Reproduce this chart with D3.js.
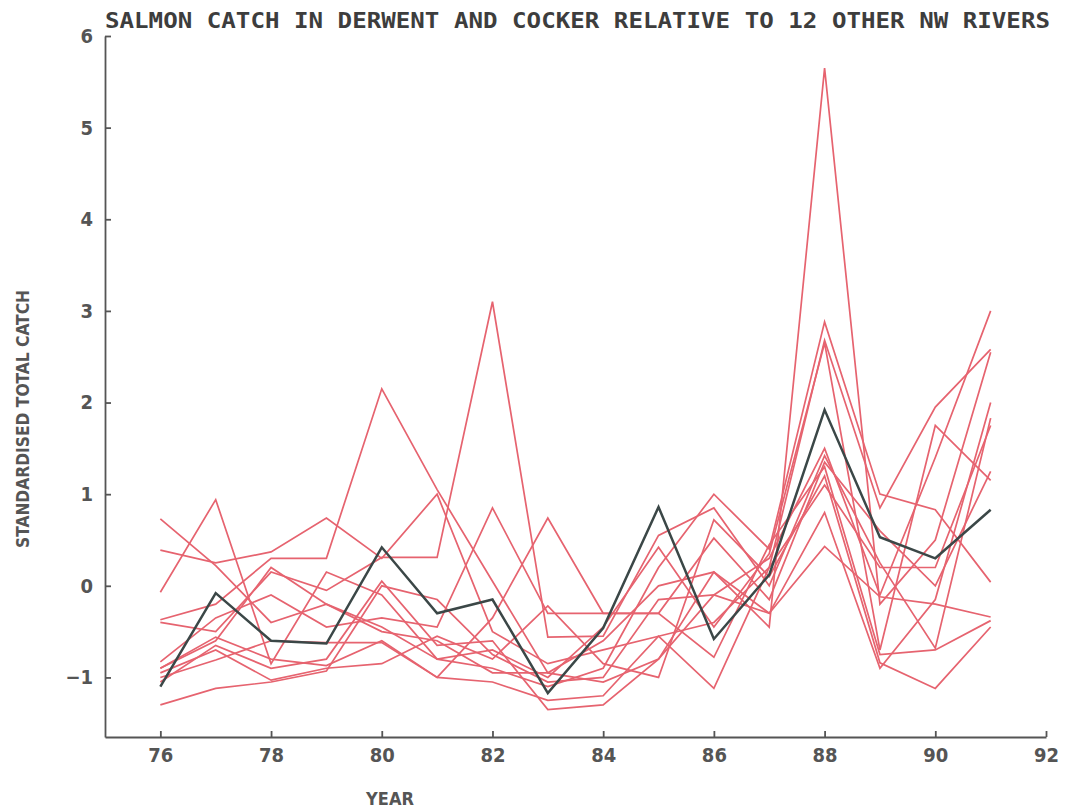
<!DOCTYPE html>
<meta charset="utf-8" />
<script src="https://d3js.org/d3.v7.min.js"></script>
<style>
  body { margin: 0; background: #fff; }
  .tick text { font-family: "DejaVu Sans Condensed", "DejaVu Sans", sans-serif; font-weight: bold; font-stretch: condensed; fill: #555; }
</style>
<div id="my_dataviz"></div>
<script>
// years on the x axis (19xx)
var years = [76, 77, 78, 79, 80, 81, 82, 83, 84, 85, 86, 87, 88, 89, 90, 91];

// Derwent and Cocker (dark line)
var derwentCocker = [-1.10, -0.08, -0.60, -0.63, 0.42, -0.30, -0.15, -1.17, -0.46, 0.86, -0.58, 0.12, 1.92, 0.53, 0.30, 0.83];

// the 12 other NW rivers (red lines)
var riverA = [0.73, 0.22, -0.40, -0.20, -0.50, -0.60, -0.95, -0.95, -0.60, 0.00, 0.15, -0.45, 5.65, -0.20, 0.50, 2.55];
var riverB = [-0.07, 0.94, -0.85, 0.15, -0.10, -0.80, -0.90, -1.10, -0.90, 0.20, 1.00, 0.40, 2.88, 1.00, 0.83, 0.04];
var riverC = [0.39, 0.25, 0.37, 0.74, 0.30, 1.00, -0.50, -0.85, -0.70, -0.55, -0.40, 0.20, 2.68, 0.85, 1.95, 2.58];
var riverD = [-0.37, -0.20, 0.30, 0.30, 2.15, 1.05, 0.05, -0.95, -1.05, -0.80, -0.10, 0.30, 1.50, -0.10, 1.40, 3.00];
var riverE = [-0.40, -0.50, 0.15, -0.05, 0.31, 0.31, 3.10, -0.56, -0.55, 0.55, 0.85, 0.00, 1.42, 0.25, -0.68, 1.83];
var riverF = [-0.83, -0.35, -0.10, -0.45, -0.35, -0.45, 0.85, -0.30, -0.30, -0.30, 0.52, -0.15, 1.35, 0.60, 0.00, 1.25];
var riverG = [-0.90, -0.56, -0.80, -0.87, -0.60, -1.00, -0.35, 0.74, -0.30, -0.30, -0.78, 0.45, 1.30, -0.75, -0.70, -0.38];
var riverH = [-0.95, -0.70, -1.03, -0.90, -0.85, -0.55, -0.80, -0.22, -0.85, -1.00, 0.72, 0.10, 1.20, -0.84, -1.12, -0.45];
var riverI = [-1.00, -0.81, -0.60, -0.62, -0.62, -1.00, -1.05, -1.25, -1.20, -0.55, -1.12, 0.20, 1.10, 0.20, 0.20, 1.75];
var riverJ = [-1.05, -0.65, -0.90, -0.80, 0.05, -0.65, -0.60, -1.35, -1.30, -0.80, 0.15, -0.30, 0.80, -0.90, -0.15, 2.00];
var riverK = [-1.30, -1.12, -1.05, -0.93, 0.00, -0.15, -0.75, -1.05, -1.00, -0.15, -0.10, -0.30, 0.43, -0.12, -0.20, -0.34];
var riverL = [-0.90, -0.60, 0.20, -0.20, -0.45, -0.80, -0.70, -1.00, -0.45, 0.42, -0.45, 0.35, 2.65, -0.70, 1.75, 1.15];
var otherRivers = [riverA, riverB, riverC, riverD, riverE, riverF, riverG, riverH, riverI, riverJ, riverK, riverL];

// tick labels
var xTicks = [76, 78, 80, 82, 84, 86, 88, 90, 92];
var yTicks = [-1, 0, 1, 2, 3, 4, 5, 6];

var width = 1070, height = 810;

var svg = d3.select("#my_dataviz")
  .append("svg")
  .attr("width", width)
  .attr("height", height);

var x = d3.scaleLinear().domain([75, 92]).range([105, 1046]);
var y = d3.scaleLinear().domain([-1.65, 6]).range([737, 36]);

// axes
var xAxis = svg.append("g")
  .attr("transform", "translate(0," + y(-1.65) + ")")
  .call(d3.axisBottom(x).tickValues(xTicks).tickFormat(d3.format("d")).tickSizeInner(-6).tickSizeOuter(0).tickPadding(11));
xAxis.selectAll("text").style("font-size", "20px");

var yAxis = svg.append("g")
  .attr("transform", "translate(" + x(75) + ",0)")
  .call(d3.axisLeft(y).tickValues(yTicks).tickFormat(function (d) { return d < 0 ? "\u2212" + Math.abs(d) : d; }).tickSizeInner(-6).tickSizeOuter(0).tickPadding(12));
yAxis.selectAll("text").style("font-size", "20px");

svg.selectAll(".domain, .tick line").attr("stroke", "#555").attr("stroke-width", 1.8);

// lines
var line = d3.line()
  .x(function (d, i) { return x(years[i]); })
  .y(function (d) { return y(d); });

svg.append("g")
  .selectAll("path")
  .data(otherRivers)
  .enter()
  .append("path")
  .attr("d", line)
  .attr("fill", "none")
  .attr("stroke", "#e6636f")
  .attr("stroke-width", 1.7);

svg.append("path")
  .datum(derwentCocker)
  .attr("d", line)
  .attr("fill", "none")
  .attr("stroke", "#3b4747")
  .attr("stroke-width", 2.5);

// title
svg.append("text")
  .attr("x", 105)
  .attr("y", 28)
  .attr("textLength", 945)
  .attr("lengthAdjust", "spacingAndGlyphs")
  .style("font-family", "DejaVu Sans Mono, monospace")
  .style("font-weight", "bold")
  .style("font-size", "21px")
  .style("fill", "#3d3d3d")
  .text("SALMON CATCH IN DERWENT AND COCKER RELATIVE TO 12 OTHER NW RIVERS");

// axis titles
svg.append("text")
  .attr("transform", "translate(29,419) rotate(-90)")
  .attr("text-anchor", "middle")
  .attr("textLength", 258)
  .attr("lengthAdjust", "spacingAndGlyphs")
  .style("font-family", "DejaVu Sans Condensed, DejaVu Sans, sans-serif")
  .style("font-weight", "bold")
  .style("font-size", "17px")
  .style("fill", "#555")
  .text("STANDARDISED TOTAL CATCH");

svg.append("text")
  .attr("x", 390)
  .attr("y", 805)
  .attr("text-anchor", "middle")
  .style("font-family", "DejaVu Sans Condensed, DejaVu Sans, sans-serif")
  .style("font-weight", "bold")
  .style("font-size", "18px")
  .style("fill", "#555")
  .text("YEAR");
</script>
